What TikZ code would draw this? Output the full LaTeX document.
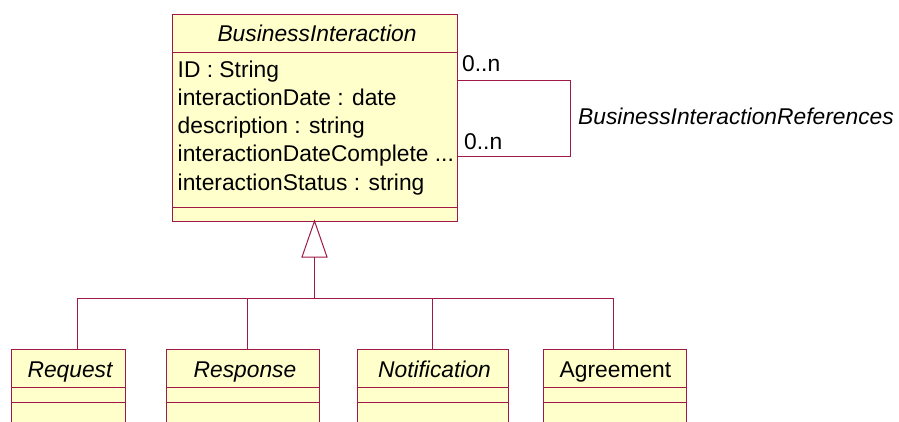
\documentclass[tikz,border=0pt]{standalone}
\usepackage{fontspec}
\setmainfont{Liberation Sans}
\usepackage{tikz}
\usetikzlibrary{calc}
\definecolor{umlMaroon}{RGB}{160, 24, 72}
\definecolor{umlFill}{RGB}{255, 255, 204}
\tikzset{
  uml/.style={draw=umlMaroon, line width=1pt},
  classbox/.style={uml, fill=umlFill, inner sep=0pt, outer sep=0pt, anchor=north west, minimum height=81pt},
  umltext/.style={inner sep=0pt, font=\fontsize{22.8}{28}\selectfont},
  umlitext/.style={umltext, font=\fontsize{22.8}{28}\selectfont\itshape}
}

\begin{document}
\begin{tikzpicture}[x=1pt, y=-1pt]

  \useasboundingbox (0, 0) rectangle (899, 421);

  % superclass
  \node[classbox, minimum width=285pt, minimum height=207pt] (bi) at (172, 14) {};
  \draw[uml] (172, 52) -- (457, 52);
  \draw[uml] (172, 207) -- (457, 207);
  \node[umlitext, anchor=base] (biname) at (317, 41.5) {BusinessInteraction};
  \foreach \t [count=\i] in {{ID : String}, {interactionDate : date}, {description : string}, {interactionDateComplete .{}.{}.}, {interactionStatus : string}}
    \node[umltext, anchor=base west] (attr\i) at ({177.5}, {77 + 28.25*(\i - 1)}) {\t};

  % self association
  \coordinate (sa) at ($(bi.north east) + (0, 66)$);
  \coordinate (sb) at ($(bi.north east) + (0, 142)$);
  \draw[uml] (sa) -- ++(113, 0) |- (sb);
  \node[umltext, anchor=base west] (multa) at (462, 71) {0..n};
  \node[umltext, anchor=base west] (multb) at (464, 149) {0..n};
  \node[umlitext, anchor=base west] (assoc) at (578, 124) {BusinessInteractionReferences};

  % subclasses
  \node[classbox, minimum width=114pt] (req) at (11, 349) {};
  \node[classbox, minimum width=153pt] (resp) at (166, 349) {};
  \node[classbox, minimum width=151pt] (notif) at (357, 349) {};
  \node[classbox, minimum width=143pt] (agr) at (543, 349) {};
  \foreach \b in {req, resp, notif, agr} {
    \draw[uml] ($(\b.north west) + (0, 38)$) -- ($(\b.north east) + (0, 38)$);
    \draw[uml] ($(\b.north west) + (0, 53)$) -- ($(\b.north east) + (0, 53)$);
  }
  \node[umlitext, anchor=base] (reqname) at ($(req.north) + (2, 28)$) {Request};
  \node[umlitext, anchor=base] (respname) at ($(resp.north) + (2.5, 28)$) {Response};
  \node[umlitext, anchor=base] (notifname) at ($(notif.north) + (2, 28)$) {Notification};
  \node[umltext, anchor=base] (agrname) at ($(agr.north) + (1, 28)$) {Agreement};

  % generalization
  \filldraw[uml, fill=white] (bi.south) -- ++(-12.5, 36) -- ++(25, 0) -- cycle;
  \coordinate (tri) at ($(bi.south) + (0, 36)$);
  \coordinate (fork) at ($(tri) + (0, 41)$);
  \draw[uml] (fork) -- (tri);
  \draw[uml] ([xshift=9pt]req.north) |- (fork);
  \draw[uml] ([xshift=4.5pt]resp.north) |- (fork);
  \draw[uml] (notif.north) |- (fork);
  \draw[uml] ([xshift=-1.5pt]agr.north) |- (fork);

\end{tikzpicture}
\end{document}
